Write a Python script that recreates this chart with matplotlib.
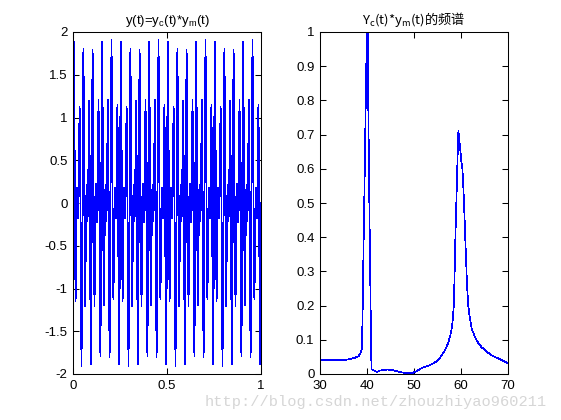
import numpy as np
import matplotlib
matplotlib.use('Agg')
import matplotlib.pyplot as plt

sig_values = [
    0, 1.46, 1.88, 1.04, -0.31, -1.15, -1.03, -0.33, 0.18, 0.13, -0.18, -0.12, 0.48, 1.12, 1.06, 0.05,
    -1.28, -1.91, -1.23, 0.33, 1.65, 1.80, 0.78, -0.55, -1.21, -0.91, -0.19, 0.21, 0.07, -0.21, -0.04, 0.63,
    1.19, 0.93, -0.22, -1.50, -1.88, -0.96, 0.65, 1.79, 1.67, 0.50, -0.76, -1.21, -0.77, -0.07, 0.22, 0,
    -0.22, 0.07, 0.77, 1.21, 0.76, -0.50, -1.67, -1.79, -0.65, 0.96, 1.88, 1.50, 0.22, -0.93, -1.19, -0.63,
    0.04, 0.21, -0.07, -0.21, 0.19, 0.91, 1.21, 0.55, -0.78, -1.80, -1.65, -0.33, 1.23, 1.91, 1.28, -0.05,
    -1.06, -1.12, -0.48, 0.12, 0.18, -0.13, -0.18, 0.33, 1.03, 1.15, 0.31, -1.04, -1.88, -1.46,
    0, 1.46, 1.88, 1.04, -0.31, -1.15, -1.03, -0.33, 0.18, 0.13, -0.18, -0.12, 0.48, 1.12, 1.06, 0.05,
    -1.28, -1.91, -1.23, 0.33, 1.65, 1.80, 0.78, -0.55, -1.21, -0.91, -0.19, 0.21, 0.07, -0.21, -0.04, 0.63,
    1.19, 0.93, -0.22, -1.50, -1.88, -0.96, 0.65, 1.79, 1.67, 0.50, -0.76, -1.21, -0.77, -0.07, 0.22, 0,
    -0.22, 0.07, 0.77, 1.21, 0.76, -0.50, -1.67, -1.79, -0.65, 0.96, 1.88, 1.50, 0.22, -0.93, -1.19, -0.63,
    0.04, 0.21, -0.07, -0.21, 0.19, 0.91, 1.21, 0.55, -0.78, -1.80, -1.65, -0.33, 1.23, 1.91, 1.28, -0.05,
    -1.06, -1.12, -0.48, 0.12, 0.18, -0.13, -0.18, 0.33, 1.03, 1.15, 0.31, -1.04, -1.88, -1.46,
    0, 1.46, 1.88, 1.04, -0.31, -1.15, -1.03, -0.33, 0.18, 0.13, -0.18, -0.12, 0.48, 1.12, 1.06, 0.05,
    -1.28, -1.91, -1.23, 0.33, 1.65, 1.80, 0.78, -0.55, -1.21, -0.91, -0.19, 0.21, 0.07, -0.21, -0.04, 0.63,
    1.19, 0.93, -0.22, -1.50, -1.88, -0.96, 0.65, 1.79, 1.67, 0.50, -0.76, -1.21, -0.77, -0.07, 0.22, 0,
    -0.22, 0.07, 0.77, 1.21, 0.76, -0.50, -1.67, -1.79, -0.65, 0.96, 1.88, 1.50, 0.22, -0.93, -1.19, -0.63,
    0.04, 0.21, -0.07, -0.21, 0.19, 0.91, 1.21, 0.55, -0.78, -1.80, -1.65, -0.33, 1.23, 1.91, 1.28, -0.05,
    -1.06, -1.12, -0.48, 0.12, 0.18, -0.13, -0.18, 0.33, 1.03, 1.15, 0.31, -1.04, -1.88, -1.46,
    0, 1.46, 1.88, 1.04, -0.31, -1.15, -1.03, -0.33, 0.18, 0.13, -0.18, -0.12, 0.48, 1.12, 1.06, 0.05,
    -1.28, -1.91, -1.23, 0.33, 1.65, 1.80, 0.78, -0.55, -1.21, -0.91, -0.19, 0.21, 0.07, -0.21, -0.04, 0.63,
    1.19, 0.93, -0.22, -1.50, -1.88, -0.96, 0.65, 1.79, 1.67, 0.50, -0.76, -1.21, -0.77, -0.07, 0.22, 0,
    -0.22, 0.07, 0.77, 1.21, 0.76, -0.50, -1.67, -1.79, -0.65, 0.96, 1.88, 1.50, 0.22, -0.93, -1.19, -0.63,
    0.04, 0.21, -0.07, -0.21, 0.19, 0.91, 1.21, 0.55, -0.78, -1.80, -1.65, -0.33, 1.23, 1.91, 1.28, -0.05,
    -1.06, -1.12, -0.48, 0.12, 0.18, -0.13, -0.18, 0.33, 1.03, 1.15, 0.31, -1.04, -1.88, -1.46,
    0,
]
sig_t_start = 0.0
sig_t_end = 1.0

# ---- data: spectrum ----
spec_freq = [30.0, 32.0, 34.0, 35.3, 36.2, 37.1, 37.7, 38.2, 38.6, 38.9, 39.05, 39.25, 39.45, 39.65,
             39.86, 40.07, 40.2, 40.4, 40.6, 40.8, 40.95, 41.5, 42.06, 42.77, 43.5, 44.4, 45.25, 46.3,
             47.7, 48.6, 49.5, 50.2, 50.9, 51.6, 52.5, 53.4, 54.1, 54.8, 55.4, 55.9, 56.5, 56.95, 57.3,
             57.66, 57.95, 58.2, 58.45, 58.6, 58.8, 59.05, 59.3, 59.45, 59.6, 59.85, 60.06, 60.3, 60.5,
             60.7, 60.9, 61.1, 61.3, 61.55, 61.8, 62.27, 62.8, 63.3, 63.8, 64.4, 65.0, 65.5, 66.0, 66.5,
             67.2, 67.9, 68.9, 70.0]
spec_amp = [0.040, 0.040, 0.040, 0.041, 0.043, 0.046, 0.049, 0.052, 0.060, 0.075, 0.163, 0.360, 0.530,
            0.720, 0.907, 1.200, 0.880, 0.624, 0.380, 0.163, 0.014, 0.010, 0.006, 0.010, 0.012, 0.013,
            0.012, 0.008, 0.004, 0.003, 0.002, 0.006, 0.011, 0.017, 0.022, 0.026, 0.031, 0.037, 0.045,
            0.055, 0.067, 0.080, 0.093, 0.109, 0.128, 0.152, 0.196, 0.269, 0.396, 0.522, 0.648, 0.712,
            0.690, 0.655, 0.624, 0.600, 0.546, 0.478, 0.400, 0.327, 0.254, 0.200, 0.170, 0.133, 0.114,
            0.099, 0.088, 0.078, 0.071, 0.065, 0.060, 0.055, 0.050, 0.046, 0.039, 0.031]

# ---- ticks / labels ----
left_xticks = [0, 0.5, 1]
left_xticklabels = ['0', '0.5', '1']
left_yticks = [-2, -1.5, -1, -0.5, 0, 0.5, 1, 1.5, 2]
left_yticklabels = ['-2', '-1.5', '-1', '-0.5', '0', '0.5', '1', '1.5', '2']
right_xticks = [30, 40, 50, 60, 70]
right_xticklabels = ['30', '40', '50', '60', '70']
right_yticks = [0, 0.1, 0.2, 0.3, 0.4, 0.5, 0.6, 0.7, 0.8, 0.9, 1]
right_yticklabels = ['0', '0.1', '0.2', '0.3', '0.4', '0.5', '0.6', '0.7', '0.8', '0.9', '1']
title_left = r'y(t)=y$_\mathregular{c}$(t)*y$_\mathregular{m}$(t)'
title_right = r'Y$_\mathregular{c}$(t)*y$_\mathregular{m}$(t)的频谱'
watermark = 'http://blog.csdn.net/zhouzhiyao960211'

plt.rcParams['font.family'] = ['Liberation Sans', 'Noto Sans CJK SC', 'DejaVu Sans']
plt.rcParams['mathtext.fontset'] = 'custom'
plt.rcParams['mathtext.rm'] = 'Liberation Sans'

W, H = 561, 420
fig = plt.figure(figsize=(W / 100, H / 100), dpi=100)
fig.patch.set_facecolor('white')

ax1 = fig.add_axes([73 / W, 46 / H, 188 / W, 342 / H])
ax2 = fig.add_axes([320 / W, 46 / H, 188 / W, 342 / H])

t = np.linspace(sig_t_start, sig_t_end, len(sig_values))
ax1.plot(t, sig_values, color='#0000ff', lw=0.5, antialiased=False)
ax1.set_xlim(0, 1)
ax1.set_ylim(-2, 2)
ax1.set_xticks(left_xticks)
ax1.set_xticklabels(left_xticklabels)
ax1.set_yticks(left_yticks)
ax1.set_yticklabels(left_yticklabels)
ax1.set_title(title_left, fontsize=9.5, pad=6)

ax2.plot(spec_freq, spec_amp, color='#0000ff', lw=0.5, antialiased=False)
ax2.set_xlim(30, 70)
ax2.set_ylim(0, 1)
ax2.set_xticks(right_xticks)
ax2.set_xticklabels(right_xticklabels)
ax2.set_yticks(right_yticks)
ax2.set_yticklabels(right_yticklabels)
ax2.set_title(title_right, fontsize=9.5, pad=6, family='Noto Sans CJK SC')

for ax in (ax1, ax2):
    ax.tick_params(direction='in', top=True, right=True, length=4, width=0.75,
                   labelsize=9.5, pad=4, colors='black')
    for s in ax.spines.values():
        s.set_linewidth(0.75)
        s.set_color('black')

fig.text(205 / W, (H - 406) / H, watermark, family='Liberation Mono', color='#d6d6d6',
         fontsize=11.1, va='baseline', ha='left')

fig.savefig('out.png', dpi=100, facecolor='white')
